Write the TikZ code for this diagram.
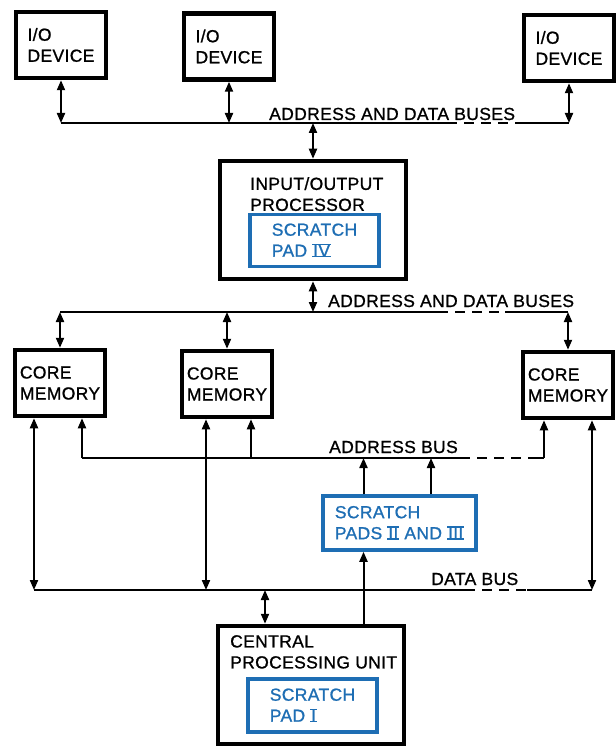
\documentclass[tikz,border=0pt]{standalone}
\usepackage{fontspec}
\setmainfont[LetterSpace=2, FakeBold=1]{Liberation Sans}
\usepackage{xcolor}
\usepackage{tikz}
\usetikzlibrary{positioning, arrows.meta}
\definecolor{padblue}{RGB}{30,110,180}
\newcommand{\boxfont}{\fontsize{17.5}{21}\selectfont}
\newcommand{\rnum}[1]{\setbox0=\hbox{\kern0.8pt#1\kern0.8pt}%
  \rlap{\rule[-0.75pt]{\wd0}{1.5pt}}\rlap{\rule[\dimexpr\ht0-0.75pt\relax]{\wd0}{1.5pt}}\box0\relax}
\tikzset{
  unit/.style={draw, line width=4.5pt, fill=white, font=\boxfont, align=left,
               minimum width=90pt, minimum height=66pt, inner sep=0pt},
  big/.style={minimum width=186pt, minimum height=118pt},
  pad/.style={draw=padblue, line width=3.5pt, text=padblue, fill=white, font=\boxfont,
              align=left, minimum width=129pt, minimum height=52pt, inner sep=0pt},
  lbl/.style={font=\boxfont, align=left, inner sep=0pt},
  bus/.style={line width=2pt},
  gap/.style={line width=2pt, dash pattern=on 10pt off 7pt, dash phase=10pt},
  bi/.style={{Triangle[length=10pt,width=8pt]}-{Triangle[length=10pt,width=8pt]}, line width=2pt},
  up/.style={-{Triangle[length=10pt,width=8pt]}, line width=2pt}
}

\begin{document}
\begin{tikzpicture}[x=1pt, y=-1pt]
  \useasboundingbox (0,0) rectangle (615,746);
  \node[unit] (io1) at (61,45) {I/O\\DEVICE};
  \node[unit] (io2) at (229,46.5) {I/O\\DEVICE};
  \node[unit] (io3) at (569,48) {I/O\\DEVICE};
  \node[unit, big] (iop) at (313,220) {};
  \node[lbl, anchor=north west] (iopl) at (250,177) {INPUT/OUTPUT\\PROCESSOR};
  \node[pad] (sp4) at (314.5,240.5) {SCRATCH\\PAD \rnum{IV}};
  \node[unit] (cm1) at (60,383) {CORE\\MEMORY};
  \node[unit] (cm2) at (227,384) {CORE\\MEMORY};
  \node[unit] (cm3) at (568,385) {CORE\\MEMORY};
  \node[pad, minimum width=153pt, minimum height=54pt] (sp23) at (399.5,523)
    {SCRATCH\\PADS \rnum{II} AND \rnum{III}};
  \node[unit, big] (cpu) at (311,685) {};
  \node[lbl, anchor=north west] (cpul) at (230,635) {CENTRAL\\PROCESSING UNIT};
  \node[pad, minimum height=53pt] (sp1) at (312.5,705.5) {SCRATCH\\PAD \rnum{I}};

  \node[lbl, anchor=base west] (tbl) at (269,120) {ADDRESS AND DATA BUSES};
  \node[lbl, anchor=base west] (mbl) at (328,307) {ADDRESS AND DATA BUSES};
  \node[lbl, anchor=base west] (abl) at (329,453) {ADDRESS BUS};
  \node[lbl, anchor=base west] (dbl) at (431,585) {DATA BUS};

  \coordinate (tb) at (0,123);
  \coordinate (mb) at (0,312);
  \coordinate (ab) at (0,458);
  \coordinate (db) at (0,590);
  \coordinate (tb1) at (457,123);
  \coordinate (tb2) at (515,123);
  \coordinate (mb1) at (448,312);
  \coordinate (mb2) at (505,312);
  \coordinate (ab1) at (470,458);
  \coordinate (ab2) at (532,458);
  \coordinate (db1) at (475,590);
  \coordinate (db2) at (527,590);
  \coordinate (d1) at ([xshift=-26pt]cm1.south);
  \coordinate (a1) at ([xshift=22pt]cm1.south);
  \coordinate (d2) at ([xshift=-21pt]cm2.south);
  \coordinate (a2) at ([xshift=24pt]cm2.south);
  \coordinate (a3) at ([xshift=-24pt]cm3.south);
  \coordinate (d3) at ([xshift=24pt]cm3.south);
  \coordinate (p1) at ([xshift=-36pt]sp23.north);
  \coordinate (p2) at ([xshift=31.5pt]sp23.north);
  \coordinate (c1) at ([xshift=-46pt]cpu.north);

  \draw[bus] (io1.south |- tb) -- (tb1);
  \draw[gap] (tb1) -- (tb2);
  \draw[bus] (tb2) -- (io3.south |- tb);
  \foreach \n in {io1,io2,io3} \draw[bi] (\n.south) -- (\n.south |- tb);
  \draw[bi] (iop.north |- tb) -- (iop.north);

  \draw[bus] (cm1.north |- mb) -- (mb1);
  \draw[gap] (mb1) -- (mb2);
  \draw[bus] (mb2) -- (cm3.north |- mb);
  \draw[bi] (iop.south) -- (iop.south |- mb);
  \foreach \n in {cm1,cm2,cm3} \draw[bi] (\n.north |- mb) -- (\n.north);

  \draw[bus] (a1 |- ab) -- (ab1);
  \draw[gap] (ab1) -- (ab2);
  \draw[bus] (ab2) -- (a3 |- ab);
  \draw[bus] (d1 |- db) -- (db1);
  \draw[gap] (db1) -- (db2);
  \draw[bus] (db2) -- (d3 |- db);
  \foreach \t in {d1,d2,d3} \draw[bi] (\t) -- (\t |- db);
  \foreach \t in {a1,a2,a3} \draw[up] (\t |- ab) -- (\t);
  \foreach \t in {p1,p2} \draw[up] (\t) -- (\t |- ab);
  \draw[up] (cpu.north -| p1) -- (sp23.south -| p1);
  \draw[bi] (c1) -- (c1 |- db);
\end{tikzpicture}
\end{document}
